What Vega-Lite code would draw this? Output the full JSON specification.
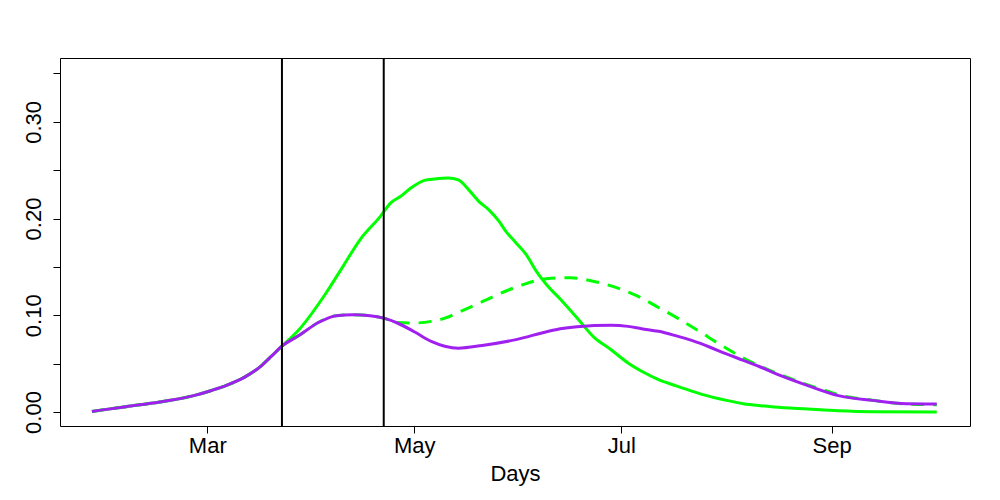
{
  "$schema": "https://vega.github.io/schema/vega-lite/v6.json",
  "width": 910,
  "height": 368,
  "autosize": "none",
  "padding": {"left": 60, "top": 58, "right": 30, "bottom": 74},
  "background": "white",
  "config": {
    "font": "Liberation Sans",
    "view": {"stroke": "black", "strokeWidth": 1},
    "axis": {
      "grid": false,
      "domain": false,
      "tickColor": "black",
      "tickSize": 7,
      "labelColor": "black",
      "labelFontSize": 22,
      "titleFontSize": 22,
      "titleFontWeight": "normal",
      "titleColor": "black"
    }
  },
  "datasets": {
    "curves": [
      {"date": "2020-01-27", "series": "solid", "value": 0.0006},
      {"date": "2020-02-06", "series": "solid", "value": 0.0055},
      {"date": "2020-02-16", "series": "solid", "value": 0.0103},
      {"date": "2020-02-26", "series": "solid", "value": 0.0169},
      {"date": "2020-03-02", "series": "solid", "value": 0.022},
      {"date": "2020-03-07", "series": "solid", "value": 0.028},
      {"date": "2020-03-12", "series": "solid", "value": 0.036},
      {"date": "2020-03-17", "series": "solid", "value": 0.048},
      {"date": "2020-03-20", "series": "solid", "value": 0.058},
      {"date": "2020-03-23", "series": "solid", "value": 0.068},
      {"date": "2020-03-28", "series": "solid", "value": 0.085},
      {"date": "2020-04-05", "series": "solid", "value": 0.123},
      {"date": "2020-04-10", "series": "solid", "value": 0.1506},
      {"date": "2020-04-15", "series": "solid", "value": 0.178},
      {"date": "2020-04-21", "series": "solid", "value": 0.2023},
      {"date": "2020-04-24", "series": "solid", "value": 0.216},
      {"date": "2020-04-27", "series": "solid", "value": 0.223},
      {"date": "2020-04-30", "series": "solid", "value": 0.2316},
      {"date": "2020-05-04", "series": "solid", "value": 0.2395},
      {"date": "2020-05-07", "series": "solid", "value": 0.241},
      {"date": "2020-05-11", "series": "solid", "value": 0.242},
      {"date": "2020-05-14", "series": "solid", "value": 0.24},
      {"date": "2020-05-17", "series": "solid", "value": 0.2299},
      {"date": "2020-05-20", "series": "solid", "value": 0.2178},
      {"date": "2020-05-23", "series": "solid", "value": 0.209},
      {"date": "2020-05-26", "series": "solid", "value": 0.197},
      {"date": "2020-05-28", "series": "solid", "value": 0.1868},
      {"date": "2020-05-31", "series": "solid", "value": 0.1748},
      {"date": "2020-06-03", "series": "solid", "value": 0.1627},
      {"date": "2020-06-06", "series": "solid", "value": 0.1454},
      {"date": "2020-06-09", "series": "solid", "value": 0.1316},
      {"date": "2020-06-13", "series": "solid", "value": 0.1168},
      {"date": "2020-06-18", "series": "solid", "value": 0.0972},
      {"date": "2020-06-23", "series": "solid", "value": 0.0771},
      {"date": "2020-06-28", "series": "solid", "value": 0.0644},
      {"date": "2020-07-03", "series": "solid", "value": 0.0507},
      {"date": "2020-07-08", "series": "solid", "value": 0.0403},
      {"date": "2020-07-12", "series": "solid", "value": 0.0334},
      {"date": "2020-07-17", "series": "solid", "value": 0.0272},
      {"date": "2020-07-22", "series": "solid", "value": 0.0213},
      {"date": "2020-07-27", "series": "solid", "value": 0.0161},
      {"date": "2020-08-01", "series": "solid", "value": 0.012},
      {"date": "2020-08-06", "series": "solid", "value": 0.0086},
      {"date": "2020-08-11", "series": "solid", "value": 0.0065},
      {"date": "2020-08-15", "series": "solid", "value": 0.0052},
      {"date": "2020-08-25", "series": "solid", "value": 0.0031},
      {"date": "2020-09-03", "series": "solid", "value": 0.0013},
      {"date": "2020-09-13", "series": "solid", "value": 0.0003},
      {"date": "2020-10-02", "series": "solid", "value": 0.0},

      {"date": "2020-01-27", "series": "dashed", "value": 0.0006},
      {"date": "2020-02-06", "series": "dashed", "value": 0.0055},
      {"date": "2020-02-16", "series": "dashed", "value": 0.0103},
      {"date": "2020-02-26", "series": "dashed", "value": 0.0169},
      {"date": "2020-03-02", "series": "dashed", "value": 0.022},
      {"date": "2020-03-07", "series": "dashed", "value": 0.028},
      {"date": "2020-03-12", "series": "dashed", "value": 0.036},
      {"date": "2020-03-17", "series": "dashed", "value": 0.048},
      {"date": "2020-03-20", "series": "dashed", "value": 0.058},
      {"date": "2020-03-23", "series": "dashed", "value": 0.068},
      {"date": "2020-03-28", "series": "dashed", "value": 0.079},
      {"date": "2020-04-03", "series": "dashed", "value": 0.093},
      {"date": "2020-04-08", "series": "dashed", "value": 0.0996},
      {"date": "2020-04-13", "series": "dashed", "value": 0.1006},
      {"date": "2020-04-18", "series": "dashed", "value": 0.0996},
      {"date": "2020-04-22", "series": "dashed", "value": 0.097},
      {"date": "2020-04-26", "series": "dashed", "value": 0.0925},
      {"date": "2020-05-01", "series": "dashed", "value": 0.092},
      {"date": "2020-05-06", "series": "dashed", "value": 0.0937},
      {"date": "2020-05-10", "series": "dashed", "value": 0.097},
      {"date": "2020-05-14", "series": "dashed", "value": 0.103},
      {"date": "2020-05-21", "series": "dashed", "value": 0.114},
      {"date": "2020-05-26", "series": "dashed", "value": 0.122},
      {"date": "2020-06-02", "series": "dashed", "value": 0.1316},
      {"date": "2020-06-09", "series": "dashed", "value": 0.1378},
      {"date": "2020-06-16", "series": "dashed", "value": 0.1388},
      {"date": "2020-06-23", "series": "dashed", "value": 0.135},
      {"date": "2020-06-30", "series": "dashed", "value": 0.128},
      {"date": "2020-07-06", "series": "dashed", "value": 0.1195},
      {"date": "2020-07-12", "series": "dashed", "value": 0.108},
      {"date": "2020-07-18", "series": "dashed", "value": 0.0962},
      {"date": "2020-07-24", "series": "dashed", "value": 0.0834},
      {"date": "2020-07-30", "series": "dashed", "value": 0.07},
      {"date": "2020-08-06", "series": "dashed", "value": 0.0558},
      {"date": "2020-08-11", "series": "dashed", "value": 0.0472},
      {"date": "2020-08-17", "series": "dashed", "value": 0.0385},
      {"date": "2020-08-25", "series": "dashed", "value": 0.028},
      {"date": "2020-08-31", "series": "dashed", "value": 0.0213},
      {"date": "2020-09-03", "series": "dashed", "value": 0.0178},
      {"date": "2020-09-13", "series": "dashed", "value": 0.0122},
      {"date": "2020-09-23", "series": "dashed", "value": 0.0082},
      {"date": "2020-10-02", "series": "dashed", "value": 0.0075},

      {"date": "2020-01-27", "series": "purple", "value": 0.0006},
      {"date": "2020-02-06", "series": "purple", "value": 0.0055},
      {"date": "2020-02-16", "series": "purple", "value": 0.0103},
      {"date": "2020-02-26", "series": "purple", "value": 0.0169},
      {"date": "2020-03-02", "series": "purple", "value": 0.022},
      {"date": "2020-03-07", "series": "purple", "value": 0.028},
      {"date": "2020-03-12", "series": "purple", "value": 0.036},
      {"date": "2020-03-17", "series": "purple", "value": 0.048},
      {"date": "2020-03-20", "series": "purple", "value": 0.058},
      {"date": "2020-03-23", "series": "purple", "value": 0.068},
      {"date": "2020-03-28", "series": "purple", "value": 0.079},
      {"date": "2020-04-03", "series": "purple", "value": 0.093},
      {"date": "2020-04-08", "series": "purple", "value": 0.0996},
      {"date": "2020-04-13", "series": "purple", "value": 0.1006},
      {"date": "2020-04-18", "series": "purple", "value": 0.0996},
      {"date": "2020-04-22", "series": "purple", "value": 0.097},
      {"date": "2020-04-26", "series": "purple", "value": 0.092},
      {"date": "2020-05-01", "series": "purple", "value": 0.083},
      {"date": "2020-05-06", "series": "purple", "value": 0.073},
      {"date": "2020-05-10", "series": "purple", "value": 0.068},
      {"date": "2020-05-14", "series": "purple", "value": 0.066},
      {"date": "2020-05-21", "series": "purple", "value": 0.0688},
      {"date": "2020-05-31", "series": "purple", "value": 0.0748},
      {"date": "2020-06-09", "series": "purple", "value": 0.083},
      {"date": "2020-06-13", "series": "purple", "value": 0.0861},
      {"date": "2020-06-18", "series": "purple", "value": 0.0882},
      {"date": "2020-06-28", "series": "purple", "value": 0.0896},
      {"date": "2020-07-03", "series": "purple", "value": 0.0885},
      {"date": "2020-07-07", "series": "purple", "value": 0.0861},
      {"date": "2020-07-12", "series": "purple", "value": 0.0834},
      {"date": "2020-07-17", "series": "purple", "value": 0.0789},
      {"date": "2020-07-22", "series": "purple", "value": 0.0737},
      {"date": "2020-07-27", "series": "purple", "value": 0.0672},
      {"date": "2020-08-01", "series": "purple", "value": 0.06},
      {"date": "2020-08-06", "series": "purple", "value": 0.0534},
      {"date": "2020-08-11", "series": "purple", "value": 0.0465},
      {"date": "2020-08-17", "series": "purple", "value": 0.0375},
      {"date": "2020-08-25", "series": "purple", "value": 0.0272},
      {"date": "2020-09-03", "series": "purple", "value": 0.0169},
      {"date": "2020-09-13", "series": "purple", "value": 0.012},
      {"date": "2020-09-23", "series": "purple", "value": 0.0086},
      {"date": "2020-10-02", "series": "purple", "value": 0.0083}
    ],
    "markers": [
      {"date": "2020-03-23"},
      {"date": "2020-04-22"}
    ]
  },
  "encoding": {
    "x": {
      "field": "date",
      "type": "temporal",
      "title": "Days",
      "scale": {
        "type": "utc",
        "domain": [
          {"year": 2020, "month": 1, "date": 17, "hours": 14, "utc": true},
          {"year": 2020, "month": 10, "date": 11, "hours": 19, "utc": true}
        ]
      },
      "axis": {
        "values": [
          {"year": 2020, "month": 3, "date": 1, "utc": true},
          {"year": 2020, "month": 5, "date": 1, "utc": true},
          {"year": 2020, "month": 7, "date": 1, "utc": true},
          {"year": 2020, "month": 9, "date": 1, "utc": true}
        ],
        "labelExpr": "utcFormat(datum.value, '%b')",
        "labelPadding": 2,
        "titlePadding": 7
      }
    }
  },
  "layer": [
    {
      "data": {"name": "curves"},
      "transform": [{"filter": "datum.series === 'solid'"}],
      "mark": {"type": "line", "color": "#00FF00", "strokeWidth": 3, "interpolate": "monotone"},
      "encoding": {
        "y": {
          "field": "value",
          "type": "quantitative",
          "title": null,
          "scale": {"domain": [-0.0145, 0.366], "nice": false, "zero": false},
          "axis": {
            "values": [0, 0.05, 0.1, 0.15, 0.2, 0.25, 0.3, 0.35],
            "labelExpr": "indexof(['0.00','0.10','0.20','0.30'], format(datum.value, '.2f')) >= 0 ? format(datum.value, '.2f') : ''",
            "labelAngle": 270,
            "labelAlign": "center",
            "labelBaseline": "bottom",
            "labelPadding": 8
          }
        }
      }
    },
    {
      "data": {"name": "curves"},
      "transform": [{"filter": "datum.series === 'dashed'"}],
      "mark": {"type": "line", "color": "#00FF00", "strokeWidth": 3, "strokeDash": [13, 9], "interpolate": "monotone"},
      "encoding": {"y": {"field": "value", "type": "quantitative"}}
    },
    {
      "data": {"name": "curves"},
      "transform": [{"filter": "datum.series === 'purple'"}],
      "mark": {"type": "line", "color": "#A020F0", "strokeWidth": 3, "interpolate": "monotone"},
      "encoding": {"y": {"field": "value", "type": "quantitative"}}
    },
    {
      "data": {"name": "markers"},
      "mark": {"type": "rule", "color": "black", "strokeWidth": 2},
      "encoding": {}
    }
  ]
}
